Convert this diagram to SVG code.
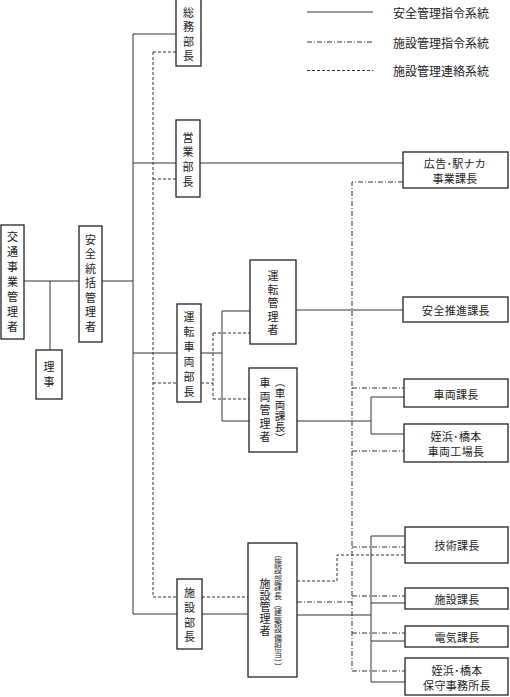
<svg xmlns="http://www.w3.org/2000/svg" width="510" height="697" viewBox="0 0 510 697">
<style>
.box{fill:#fff;stroke:#222;stroke-width:1.3}
.s{fill:none;stroke:#333;stroke-width:1}
.d{fill:none;stroke:#333;stroke-width:1;stroke-dasharray:3 2}
.dd{fill:none;stroke:#333;stroke-width:1;stroke-dasharray:5 2 1 2}
text{font-family:"Noto Sans CJK JP","Noto Sans CJK SC",sans-serif;fill:#222;font-size:11px}
.h{text-anchor:middle;dominant-baseline:central;letter-spacing:0.3px}
.v{writing-mode:vertical-rl;text-anchor:middle}
.lg{font-size:12px;dominant-baseline:central}
</style>
<rect width="510" height="697" fill="#fff"/>
<g id="legend">
<line class="s" x1="307" y1="12" x2="373" y2="12"/>
<text class="lg" x="393" y="12">安全管理指令系統</text>
<line class="dd" x1="307" y1="42" x2="373" y2="42"/>
<text class="lg" x="393" y="42">施設管理指令系統</text>
<line class="d" x1="307" y1="70.5" x2="373" y2="70.5"/>
<text class="lg" x="393" y="70.5">施設管理連絡系統</text>
</g>
<g id="connectors">
<!-- solid -->
<path class="s" d="M24 281H79M50 281V350M102 281H133M133 34V614M133 34H176M133 163H403M133 353H177M201 353H222M222 311V421M222 311H250M222 421H249M296 310H403M297 421H371M371 397V434M371 397H404M371 434H404M133 614H177M202 614H248M297 615H371M371 536V682M371 536H405M371 603H405M371 641H405M371 682H405"/>
<!-- dashed -->
<path class="d" d="M153 52V597M153 52H176M153 179H176M153 383H177M201 383H213M213 333V399M213 333H250M213 399H250M153 597H177M202 597H248M297 581H337V555H405"/>
<!-- dash-dot -->
<path class="dd" d="M403 182H352V671M352 388H404M352 451H404M352 547H405M297 602H352M352 596H405M352 633H405M352 671H405"/>
</g>
<g id="n-kotsu"><rect class="box" x="1" y="225" width="23" height="114"/><text class="v" x="12.5" y="284" style="letter-spacing:4px">交通事業管理者</text></g>
<g id="n-riji"><rect class="box" x="36" y="350" width="26" height="49"/><text class="v" x="49" y="376" style="letter-spacing:4px">理事</text></g>
<g id="n-anzen"><rect class="box" x="79" y="226" width="23" height="116"/><text class="v" x="90.5" y="285" style="letter-spacing:3.5px">安全統括管理者</text></g>
<g id="n-somu"><rect class="box" x="176" y="-1" width="25" height="67"/><text class="v" x="188.5" y="36" style="letter-spacing:3.5px">総務部長</text></g>
<g id="n-eigyo"><rect class="box" x="176" y="120" width="24" height="77"/><text class="v" x="188" y="161.5" style="letter-spacing:3.7px">営業部長</text></g>
<g id="n-unten"><rect class="box" x="177" y="304" width="24" height="98"/><text class="v" x="189" y="356.5" style="letter-spacing:4px">運転車両部長</text></g>
<g id="n-shisetsu"><rect class="box" x="177" y="579" width="25" height="70"/><text class="v" x="189.5" y="617" style="letter-spacing:3.7px">施設部長</text></g>
<g id="n-untenkanri"><rect class="box" x="250" y="260" width="46" height="84"/><text class="v" x="273" y="304.5" style="letter-spacing:2.5px">運転管理者</text></g>
<g id="n-sharyokanri"><rect class="box" x="249" y="368" width="48" height="84"/><text class="v" x="265" y="411.5" style="letter-spacing:2.5px">車両管理者</text><text class="v" x="280" y="410.5" style="font-size:10.5px;letter-spacing:0.7px">（車両課長）</text></g>
<g id="n-shisetsukanri"><rect class="box" x="248" y="543" width="49" height="134"/><text class="v" x="265" y="607.5" style="letter-spacing:0.7px">施設管理者</text><text class="v" x="278" y="610.5" style="font-size:8px;letter-spacing:0.4px">（施設部課長（建築設備担当））</text></g>
<g id="n-kokoku"><rect class="box" x="403" y="152" width="105" height="36"/><text class="h" x="455" y="163">広告･駅ナカ</text><text class="h" x="455" y="178">事業課長</text></g>
<g id="n-anzensuishin"><rect class="box" x="403" y="297" width="105" height="25"/><text class="h" x="456" y="310">安全推進課長</text></g>
<g id="n-sharyo"><rect class="box" x="404" y="379" width="104" height="28"/><text class="h" x="456" y="394">車両課長</text></g>
<g id="n-kojo"><rect class="box" x="404" y="424" width="104" height="38"/><text class="h" x="456" y="436">姪浜･橋本</text><text class="h" x="456" y="451">車両工場長</text></g>
<g id="n-gijutsu"><rect class="box" x="405" y="527" width="103" height="36"/><text class="h" x="457" y="545">技術課長</text></g>
<g id="n-shisetsuka"><rect class="box" x="405" y="588" width="103" height="21"/><text class="h" x="457" y="598.5">施設課長</text></g>
<g id="n-denki"><rect class="box" x="405" y="626" width="103" height="21"/><text class="h" x="457" y="636.5">電気課長</text></g>
<g id="n-hoshu"><rect class="box" x="405" y="658" width="103" height="37"/><text class="h" x="457" y="669.5">姪浜･橋本</text><text class="h" x="457" y="684.5">保守事務所長</text></g>
</svg>
